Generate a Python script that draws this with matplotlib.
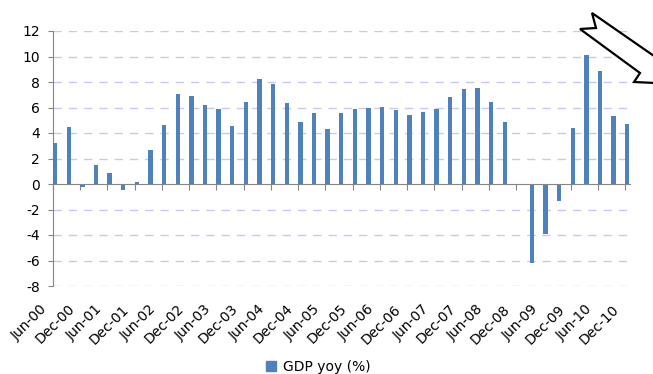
import matplotlib.pyplot as plt
from matplotlib.patches import Patch, Polygon
from matplotlib.transforms import ScaledTranslation

# quarterly GDP growth, year on year (%), Jun-00 .. Dec-10
gdp_yoy = [3.25, 4.5, -0.2, 1.5, 0.87, -0.45, 0.17, 2.68, 4.65,
           7.07, 6.92, 6.22, 5.9, 4.57, 6.45, 8.25, 7.86, 6.37,
           4.88, 5.58, 4.33, 5.58, 5.9, 5.97, 6.05, 5.82, 5.42,
           5.67, 5.9, 6.84, 7.46, 7.55, 6.45, 4.88, 0.0, -6.2,
           -3.92, -1.33, 4.42, 10.13, 8.87, 5.35, 4.72]
tick_labels = ["Jun-00", "Dec-00", "Jun-01", "Dec-01", "Jun-02", "Dec-02",
               "Jun-03", "Dec-03", "Jun-04", "Dec-04", "Jun-05", "Dec-05",
               "Jun-06", "Dec-06", "Jun-07", "Dec-07", "Jun-08", "Dec-08",
               "Jun-09", "Dec-09", "Jun-10", "Dec-10"]
y_ticks = [-8, -6, -4, -2, 0, 2, 4, 6, 8, 10, 12]

blue = "#4F81BD"
axis_grey = "#868686"

plt.rcParams['font.family'] = 'DejaVu Sans'
fig = plt.figure(figsize=(6.53, 3.74), dpi=100)
ax = fig.add_axes([53 / 653, 1 - 286 / 374, 577 / 653, 255 / 374])

quarters = list(range(len(gdp_yoy)))
ax.bar(quarters, gdp_yoy, width=0.32, align='edge', color=blue, zorder=3)

ax.set_xlim(0, 42.36)
ax.set_ylim(-8, 12)
ax.set_yticks(y_ticks)
ax.set_yticklabels([str(v) for v in y_ticks], fontsize=10)

for v in y_ticks:
    if v != 0:
        ax.axhline(v, color="#c8c8f5", lw=1.0, dashes=(6, 5), zorder=1)

for s in ['top', 'right']:
    ax.spines[s].set_visible(False)
ax.spines['left'].set_color(axis_grey)
ax.spines['bottom'].set_position(('data', 0))
ax.spines['bottom'].set_color(axis_grey)
ax.spines['bottom'].set_zorder(4)

tick_pos = list(range(0, 44, 2))
ax.set_xticks(tick_pos)
ax.tick_params(axis='x', direction='out', length=4, color=axis_grey,
               labelbottom=False)
ax.tick_params(axis='y', direction='out', length=3.5, color=axis_grey, pad=6)

# date labels sit below the plot area, not on the zero line
sec = ax.secondary_xaxis('bottom')
sec.set_xticks(tick_pos)
sec.set_xticklabels(tick_labels, fontsize=10, rotation=45, ha='right',
                    va='center', rotation_mode='anchor')
sec.tick_params(length=0, pad=15)
sec.spines['bottom'].set_visible(False)
shift = ScaledTranslation(-8 / 100, 0, fig.dpi_scale_trans)
for lbl in sec.get_xticklabels():
    lbl.set_transform(lbl.get_transform() + shift)

fig.legend(handles=[Patch(color=blue, label="GDP yoy (%)")],
           loc='center', bbox_to_anchor=(318 / 653, 1 - 367 / 374),
           frameon=False, fontsize=10, handlelength=0.75, handleheight=0.75,
           handletextpad=0.5)

# notched arrow in the top right corner
arrow_px = [(592, 13), (596, 28), (580, 29), (640, 73), (634, 82),
            (720, 86), (700, 30), (680, 74)]
arrow = Polygon([(x / 653, 1 - y / 374) for x, y in arrow_px], closed=True,
                transform=fig.transFigure, facecolor='white',
                edgecolor='black', lw=1.6, zorder=10)
fig.patches.append(arrow)

fig.savefig("out.png", dpi=100)
